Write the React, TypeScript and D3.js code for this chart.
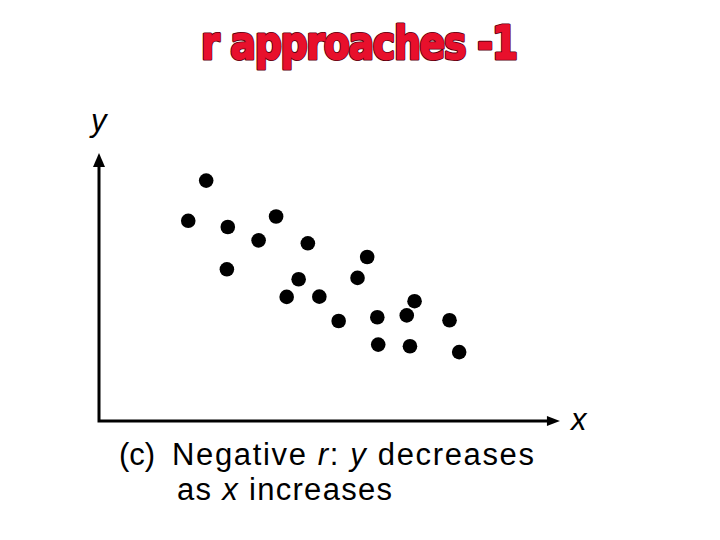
import React from "react";
import * as d3 from "d3";

// Data (arbitrary units)
const xValues = [2.33, 1.94, 2.80, 3.85, 3.47, 4.54, 2.78, 5.83, 4.34, 5.62, 4.08, 4.79, 6.86, 5.21, 6.05, 6.69, 7.62, 6.07, 6.76, 7.83];
const yValues = [8.97, 7.47, 7.24, 7.63, 6.74, 6.63, 5.66, 6.12, 5.29, 5.34, 4.63, 4.64, 4.47, 3.73, 3.87, 3.94, 3.76, 2.85, 2.79, 2.57];
const titleText = "r approaches -1";
const axisLabels = ["x", "y"];

const W = 720;
const H = 540;

export default function App() {
  const x = d3.scaleLinear().domain([0, 10]).range([99, 559]);
  const y = d3.scaleLinear().domain([0, 10]).range([421, 153]);
  const points = xValues.map((v, i) => ({ x: v, y: yValues[i] }));
  const font = "'Liberation Sans', Arial, Helvetica, sans-serif";
  const titleFont = "'Liberation Sans Narrow', 'Arial Narrow', 'DejaVu Sans Condensed', sans-serif";
  const x0 = x(0);
  const y0 = y(0);
  const xEnd = x(10.02);
  const yEnd = y(10);

  const titleProps = {
    x: 0,
    y: 0,
    fontFamily: titleFont,
    fontWeight: "bold",
    fontSize: 42,
    textLength: 317,
    lengthAdjust: "spacing",
  } as const;

  return (
    <svg
      width={W}
      height={H}
      viewBox={`0 0 ${W} ${H}`}
      style={{ position: "absolute", left: 0, top: 0, background: "#fff" }}
    >
      <rect x={0} y={0} width={W} height={H} fill="#fff" />
      <g transform="translate(201,58.5) scale(1,1.1)">
        <text {...titleProps} fill="#5a0010" stroke="#5a0010" strokeWidth={2.8} strokeLinejoin="round">
          {titleText}
        </text>
        <text {...titleProps} fill="#e8102c" stroke="#e8102c" strokeWidth={1.2} strokeLinejoin="round">
          {titleText}
        </text>
      </g>

      {/* axes */}
      <path
        d={`M${x0},${yEnd + 12} L${x0},${y0} L${xEnd - 11},${y0}`}
        fill="none"
        stroke="#000"
        strokeWidth={3}
      />
      <path
        d={`M${x0},${yEnd} L${x0 - 6},${yEnd + 14} L${x0 + 6},${yEnd + 14} Z`}
        fill="#000"
      />
      <path
        d={`M${xEnd},${y0} L${xEnd - 13},${y0 - 5} L${xEnd - 13},${y0 + 5} Z`}
        fill="#000"
      />
      <text x={571} y={430} fontFamily={font} fontStyle="italic" fontSize={31} fill="#000">
        {axisLabels[0]}
      </text>
      <text x={91} y={131} fontFamily={font} fontStyle="italic" fontSize={31} fill="#000">
        {axisLabels[1]}
      </text>

      {points.map((p, i) => (
        <circle key={i} cx={x(p.x)} cy={y(p.y)} r={7.3} fill="#000" />
      ))}

      {/* caption */}
      <text x={119} y={465} fontFamily={font} fontSize={31} fill="#000">
        (c)
      </text>
      <text
        x={172}
        y={465}
        fontFamily={font}
        fontSize={31}
        fill="#000"
        textLength={362}
        lengthAdjust="spacing"
      >
        Negative <tspan fontStyle="italic">r</tspan>: <tspan fontStyle="italic">y</tspan> decreases
      </text>
      <text
        x={177}
        y={500}
        fontFamily={font}
        fontSize={31}
        fill="#000"
        textLength={215}
        lengthAdjust="spacing"
      >
        as <tspan fontStyle="italic">x</tspan> increases
      </text>
    </svg>
  );
}
